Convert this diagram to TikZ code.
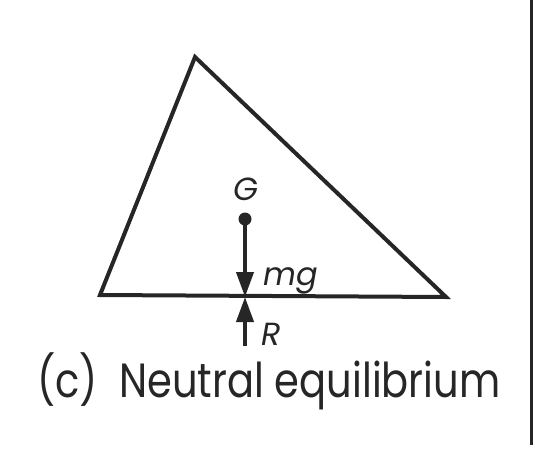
\documentclass[tikz,border=0pt]{standalone}
\usepackage{fontspec}
\setmainfont{Poppins}
\usetikzlibrary{arrows.meta}
\begin{document}
\begin{tikzpicture}[x=1pt,y=-1pt,
  edge/.style={line width=4pt,line join=miter,draw=black!85},
  force/.style={line width=4pt,draw=black!85,-{Triangle[width=17pt,length=25pt]}},
  lbl/.style={font=\fontsize{32}{32}\selectfont\itshape,text=black!85,inner sep=0pt},
]
\useasboundingbox (0,0) rectangle (535,458);
\coordinate (A) at (195,57);
\coordinate (B) at (100,295);
\coordinate (C) at (446,297);
\draw[edge] (A) -- (B) -- (C) -- cycle;
\draw[line width=3pt,draw=black!85] (531,0) -- (531,445);
\coordinate (Gp) at (245,219);
\coordinate (T) at (245,297);
\coordinate (Rb) at (245,346);
\draw[force] (Gp) -- (T);
\draw[force] (Rb) -- (T);
\fill[black!85] (Gp) circle (6.5pt);
\node[lbl] (G) at (246,189) {G};
\node[lbl,anchor=west] (mg) at (263,281) {mg};
\node[lbl,anchor=west] (R) at (261,334) {R};
\node[text=black!85,anchor=base,inner sep=0pt] (cap) at (269,397) {\scalebox{1}[1.2]{\fontsize{40}{40}\selectfont(c)\ \ Neutral equilibrium}};
\end{tikzpicture}
\end{document}
